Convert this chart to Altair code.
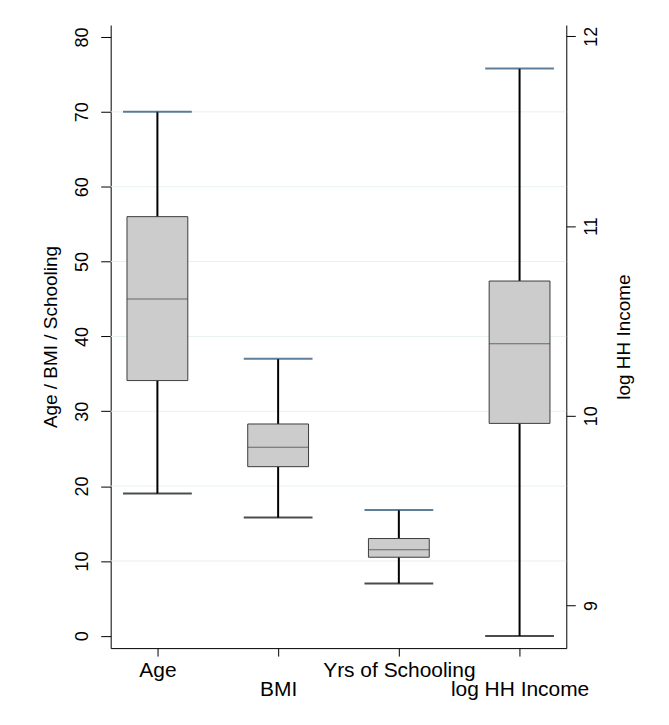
import altair as alt
import pandas as pd

# ---- data ----
categories = ["Age", "BMI", "Yrs of Schooling", "log HH Income"]
upper_row_labels = ["Age", "Yrs of Schooling"]
lower_row_labels = ["BMI", "log HH Income"]

left_cats = ["Age", "BMI", "Yrs of Schooling"]
left_lower = [19.0, 15.8, 7.0]
left_q1 = [34.1, 22.6, 10.5]
left_median = [45.0, 25.2, 11.5]
left_q3 = [56.0, 28.3, 13.0]
left_upper = [70.0, 37.0, 16.8]

right_cats = ["log HH Income"]
right_lower = [8.84]
right_q1 = [9.96]
right_median = [10.38]
right_q3 = [10.71]
right_upper = [11.83]

left_ticks = [0, 10, 20, 30, 40, 50, 60, 70, 80]
grid_values = [10, 20, 30, 40, 50, 60, 70]
right_ticks = [9, 10, 11, 12]

FONT = "Liberation Sans"
BOX_FILL = "#cccccc"
BOX_LINE = "#3c3c3c"
CAP_TOP = "#1a476f"
GRID = "#e8f0f2"

left_df = pd.DataFrame({"cat": left_cats, "lower": left_lower, "q1": left_q1,
                        "median": left_median, "q3": left_q3, "upper": left_upper})
right_df = pd.DataFrame({"cat": right_cats, "lower": right_lower, "q1": right_q1,
                         "median": right_median, "q3": right_q3, "upper": right_upper})
grid_df = pd.DataFrame({"g": grid_values})

x_scale = alt.Scale(type="point", domain=categories, padding=0.387)


def in_list_expr(names):
    return " || ".join(f"datum.value == '{n}'" for n in names)


x_axis_top_row = alt.Axis(
    title=None, orient="bottom",
    labelExpr=f"({in_list_expr(upper_row_labels)}) ? datum.value : ''",
    labelAngle=0, labelAlign="center",
    labelFont=FONT, labelFontSize=21, labelColor="black",
    labelBaseline="top", labelPadding=3,
    labelOverlap=False, labelFlush=False, labelBound=False,
    tickSize=8, tickColor="black", tickWidth=1,
    domainColor="black", domainWidth=1, grid=False,
)

x_axis_bottom_row = alt.Axis(
    title=None, orient="bottom",
    labelExpr=f"({in_list_expr(lower_row_labels)}) ? datum.value : ''",
    labelAngle=0, labelAlign="center",
    labelFont=FONT, labelFontSize=21, labelColor="black",
    labelBaseline="top", labelPadding=23,
    labelOverlap=False, labelFlush=False, labelBound=False,
    tickSize=8, tickColor="black", tickWidth=1, tickOpacity=0,
    domain=False, grid=False,
)

left_axis = alt.Axis(
    title="Age / BMI / Schooling", values=left_ticks,
    labelAngle=-90, labelAlign="center", labelBaseline="alphabetic",
    labelFont=FONT, labelFontSize=18, labelColor="black", labelPadding=13,
    tickSize=10, tickColor="black", tickWidth=1,
    domainColor="black", domainWidth=1, grid=False,
    titleFont=FONT, titleFontSize=19, titleFontWeight="normal", titleColor="black",
    titleAngle=-90, titleBaseline="bottom", titlePadding=13,
)

right_axis = alt.Axis(
    title="log HH Income", orient="right", values=right_ticks, format="d",
    labelAngle=-90, labelAlign="center", labelBaseline="top",
    labelFont=FONT, labelFontSize=18, labelColor="black", labelPadding=7,
    tickSize=9, tickColor="black", tickWidth=1,
    domainColor="black", domainWidth=1, grid=False,
    titleFont=FONT, titleFontSize=19, titleFontWeight="normal", titleColor="black",
    titleAngle=-90, titleBaseline="top", titlePadding=14,
)


def box_layers(df, y_scale, y_axis, x_axis, with_grid):
    base = alt.Chart(df)
    X = alt.X("cat:N", scale=x_scale, axis=x_axis)

    def Y(field):
        return alt.Y(field, type="quantitative", scale=y_scale, axis=y_axis)

    whisk = base.mark_rule(color="black", strokeWidth=2).encode(
        x=X, y=Y("lower"), y2="upper:Q",
    )
    box = base.mark_bar(size=61, color=BOX_FILL, stroke=BOX_LINE, strokeWidth=1).encode(
        x=X, y=Y("q1"), y2="q3:Q",
    )
    med = base.mark_tick(size=61, thickness=1, color=BOX_LINE, orient="horizontal").encode(
        x=X, y=Y("median"),
    )
    cap_lo = base.mark_tick(size=69, thickness=2, color="black", orient="horizontal").encode(
        x=X, y=Y("lower"),
    )
    cap_hi = base.mark_tick(size=69, thickness=2, color=CAP_TOP, orient="horizontal").encode(
        x=X, y=Y("upper"),
    )
    layers = [whisk, box, med, cap_lo, cap_hi]
    if with_grid:
        grid = alt.Chart(grid_df).mark_rule(color=GRID, strokeWidth=1).encode(
            y=Y("g")
        )
        layers = [grid] + layers
    return alt.layer(*layers)


left_layer = box_layers(left_df, alt.Scale(domain=[-1.64, 81.6], nice=False, zero=False),
                        left_axis, x_axis_top_row, True)
right_layer = box_layers(right_df, alt.Scale(domain=[8.776, 12.059], nice=False, zero=False),
                         right_axis, x_axis_bottom_row, False)

chart = alt.layer(left_layer, right_layer).resolve_scale(y="independent").resolve_axis(
    x="independent", y="independent"
).properties(
    width=457, height=625,
    autosize=alt.AutoSizeParams(type="none"),
    padding={"left": 103, "top": 16, "right": 95, "bottom": 55},
    background="white",
).configure_view(stroke=None)

chart.save("out.html", embed_options={"renderer": "svg", "actions": False})
